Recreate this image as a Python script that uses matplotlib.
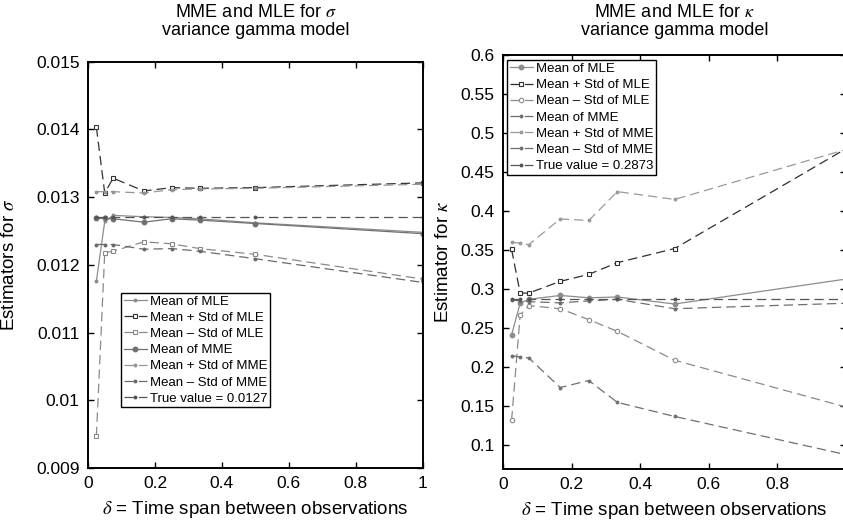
#!/usr/bin/env python3
import matplotlib
matplotlib.use("Agg")
import matplotlib.pyplot as plt


DELTA = [1 / 40, 1 / 20, 3 / 40, 1 / 6, 1 / 4, 1 / 3, 1 / 2, 1.0]

SIG_MLE_MEAN = [0.01176, 0.01264, 0.01273, 0.01271, 0.01270, 0.01268, 0.01262, 0.01248]
SIG_MLE_UP = [0.01403, 0.01306, 0.01328, 0.01309, 0.01314, 0.01313, 0.01314, 0.01321]
SIG_MLE_DN = [0.00947, 0.01218, 0.01220, 0.01234, 0.01231, 0.01224, 0.012155, 0.01179]
SIG_MME_MEAN = [0.012685, 0.012685, 0.01268, 0.01263, 0.01268, 0.01266, 0.01261, 0.01246]
SIG_MME_UP = [0.01308, 0.01308, 0.01308, 0.01306, 0.01311, 0.01312, 0.01313, 0.01319]
SIG_MME_DN = [0.01230, 0.01230, 0.01230, 0.01223, 0.01224, 0.01220, 0.01209, 0.01174]
SIG_TRUE = 0.0127

KAP_MLE_MEAN = [0.2415, 0.282, 0.287, 0.292, 0.289, 0.290, 0.281, 0.313]
KAP_MLE_UP = [0.351, 0.295, 0.295, 0.310, 0.319, 0.334, 0.352, 0.480]
KAP_MLE_DN = [0.132, 0.267, 0.279, 0.275, 0.261, 0.246, 0.209, 0.149]
KAP_MME_MEAN = [0.286, 0.285, 0.284, 0.2825, 0.285, 0.287, 0.275, 0.282]
KAP_MME_UP = [0.360, 0.359, 0.357, 0.390, 0.388, 0.425, 0.415, 0.479]
KAP_MME_DN = [0.215, 0.213, 0.212, 0.174, 0.183, 0.155, 0.137, 0.088]
KAP_TRUE = 0.2873

LABELS = [
    "Mean of MLE", "Mean + Std of MLE", "Mean \u2013 Std of MLE",
    "Mean of MME", "Mean + Std of MME", "Mean \u2013 Std of MME",
]

DASH = (0, (7.5, 4))
FONT = ["Liberation Sans", "DejaVu Sans"]


def style_axes(ax):
  ax.tick_params(direction="in", top=True, right=True, length=4.5, width=1,
                 labelsize=12.5, pad=6)
  for sp in ax.spines.values():
    sp.set_linewidth(1.4)


def draw(ax, series, styles, true_val, true_label):
  for ys, lab, st in zip(series, LABELS, styles):
    ax.plot(DELTA, ys, label=lab, lw=0.9, **st)
  ax.plot(DELTA, [true_val] * len(DELTA), label=true_label, lw=0.9,
          color="#555555", ls=DASH, marker="o", ms=1.8)


def add_legend(fig, ax, anchor):
  fig.legend(*ax.get_legend_handles_labels(), loc="upper left",
             bbox_to_anchor=anchor, fontsize=9.5, frameon=True,
             fancybox=False, edgecolor="black", framealpha=1, borderpad=0.2,
             labelspacing=0.3, handlelength=1.8, handletextpad=0.2,
             borderaxespad=0).get_frame().set_linewidth(1.0)


def main():
  plt.rcParams["font.family"] = FONT
  plt.rcParams["mathtext.fontset"] = "stix"
  fig = plt.figure(figsize=(8.43, 5.27), dpi=100)

  # left panel: sigma
  ax = fig.add_axes([0.1044, 0.112, 0.397, 0.771])
  styles = [
      dict(color="#8c8c8c", ls="-", marker="o", ms=1.8),
      dict(color="#333333", ls=DASH, marker="s", ms=3.2, mfc="white", mew=0.8),
      dict(color="#8a8a8a", ls=DASH, marker="s", ms=3.2, mfc="white", mew=0.8),
      dict(color="#707070", ls="-", marker="o", ms=3.2),
      dict(color="#959595", ls=DASH, marker="o", ms=1.8),
      dict(color="#6a6a6a", ls=DASH, marker="o", ms=1.8),
  ]
  draw(ax, [SIG_MLE_MEAN, SIG_MLE_UP, SIG_MLE_DN, SIG_MME_MEAN, SIG_MME_UP, SIG_MME_DN],
       styles, SIG_TRUE, "True value = 0.0127")
  ax.set_xlim(0, 1)
  ax.set_ylim(0.009, 0.015)
  ax.set_xticks([0, 0.2, 0.4, 0.6, 0.8, 1])
  ax.set_xticklabels(["0", "0.2", "0.4", "0.6", "0.8", "1"])
  ax.set_yticks([0.009, 0.010, 0.011, 0.012, 0.013, 0.014, 0.015])
  ax.set_yticklabels(["0.009", "0.01", "0.011", "0.012", "0.013", "0.014", "0.015"])
  style_axes(ax)
  ax.set_ylabel(r"Estimators for $\sigma$", fontsize=13.5)
  ax.yaxis.set_label_coords(-0.209, 0.5)
  ax.set_xlabel(r"$\delta$ = Time span between observations", fontsize=13.5)
  ax.xaxis.set_label_coords(0.5, -0.103)
  ax.xaxis.label.set_va("center")
  add_legend(fig, ax, (0.1435, 0.4446))
  fig.text(0.303, 1 - 4 / 527, "MME and MLE for $\\sigma$\nvariance gamma model",
           ha="center", va="top", fontsize=13, linespacing=1.1)

  # right panel: kappa (axes runs past the right edge of the figure)
  ax = fig.add_axes([0.5967, 0.1106, 0.4069, 0.785])
  styles = [
      dict(color="#8c8c8c", ls="-", marker="o", ms=3.2),
      dict(color="#2e2e2e", ls=DASH, marker="s", ms=3.2, mfc="white", mew=0.8),
      dict(color="#8a8a8a", ls=DASH, marker="o", ms=3.2, mfc="white", mew=0.8),
      dict(color="#6e6e6e", ls=DASH, marker="o", ms=1.8),
      dict(color="#9a9a9a", ls=DASH, marker="o", ms=1.8),
      dict(color="#707070", ls=DASH, marker="o", ms=1.8),
  ]
  draw(ax, [KAP_MLE_MEAN, KAP_MLE_UP, KAP_MLE_DN, KAP_MME_MEAN, KAP_MME_UP, KAP_MME_DN],
       styles, KAP_TRUE, "True value = 0.2873")
  ax.set_xlim(0, 1)
  ax.set_ylim(0.07, 0.6)
  ax.set_xticks([0, 0.2, 0.4, 0.6, 0.8])
  ax.set_xticklabels(["0", "0.2", "0.4", "0.6", "0.8"])
  ax.set_yticks([0.1, 0.15, 0.2, 0.25, 0.3, 0.35, 0.4, 0.45, 0.5, 0.55, 0.6])
  ax.set_yticklabels(["0.1", "0.15", "0.2", "0.25", "0.3", "0.35", "0.4",
                      "0.45", "0.5", "0.55", "0.6"])
  style_axes(ax)
  ax.set_ylabel(r"Estimator for $\kappa$", fontsize=13.5)
  ax.yaxis.set_label_coords(-0.148, 0.5)
  ax.set_xlabel(r"$\delta$ = Time span between observations", fontsize=13.5)
  ax.xaxis.set_label_coords(0.5, -0.1)
  ax.xaxis.label.set_va("center")
  add_legend(fig, ax, (0.6014, 0.886))
  fig.text(0.8, 1 - 4 / 527, "MME and MLE for $\\kappa$\nvariance gamma model",
           ha="center", va="top", fontsize=13, linespacing=1.1)

  fig.savefig("out.png", dpi=100)


if __name__ == "__main__":
  main()
